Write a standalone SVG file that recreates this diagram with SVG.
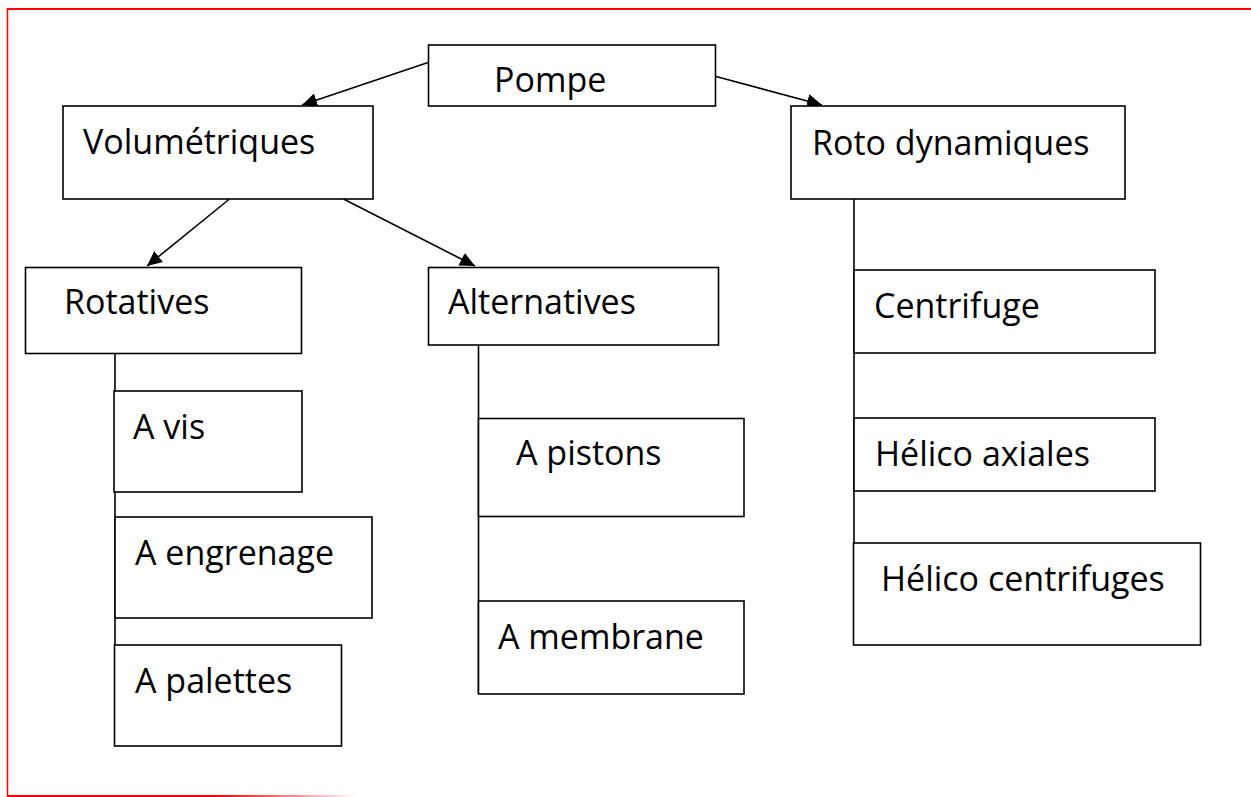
<svg xmlns="http://www.w3.org/2000/svg" width="1251" height="797" viewBox="0 0 1251 797">
<style>
.box{fill:#fff;stroke:#000;stroke-width:1.6}
.lbl{font-family:"Open Sans","Noto Sans","Liberation Sans",sans-serif;font-size:34px;fill:#000}
.con{fill:none;stroke:#000;stroke-width:1.6}
</style>
<defs>
<marker id="ah" markerUnits="userSpaceOnUse" markerWidth="18" markerHeight="16" refX="15" refY="7" orient="auto">
<path d="M0,0 L15,7 L0,14 z" fill="#000"/>
</marker>
<linearGradient id="fade" x1="0" y1="0" x2="1" y2="0">
<stop offset="0.6" stop-color="#ff0000"/>
<stop offset="1" stop-color="#ff0000" stop-opacity="0"/>
</linearGradient>
</defs>
<rect width="1251" height="797" fill="#fff"/>
<g id="frame">
<line x1="7.5" y1="9" x2="1251" y2="9" stroke="#ff0000" stroke-width="2"/>
<line x1="7.5" y1="8" x2="7.5" y2="796" stroke="#ff0000" stroke-width="1.5"/>
<rect x="7" y="795" width="350" height="2" fill="url(#fade)"/>
</g>
<g id="connectors">
<line class="con" x1="428" y1="62.5" x2="302" y2="105" marker-end="url(#ah)"/>
<line class="con" x1="716" y1="76.5" x2="822" y2="105" marker-end="url(#ah)"/>
<line class="con" x1="229.5" y1="199" x2="147" y2="266" marker-end="url(#ah)"/>
<line class="con" x1="343.5" y1="199" x2="475" y2="266" marker-end="url(#ah)"/>
<line class="con" x1="115" y1="354" x2="115" y2="694"/>
<line class="con" x1="478.5" y1="345" x2="478.5" y2="694"/>
<line class="con" x1="854" y1="199" x2="854" y2="578"/>
</g>
<g id="pompe"><rect class="box" x="428.5" y="45" width="287" height="61"/><text class="lbl" x="494" y="92">Pompe</text></g>
<g id="volumetriques"><rect class="box" x="63" y="106" width="310" height="93"/><text class="lbl" x="83" y="154">Volumétriques</text></g>
<g id="roto"><rect class="box" x="791" y="106" width="334" height="93"/><text class="lbl" x="812" y="155">Roto dynamiques</text></g>
<g id="rotatives"><rect class="box" x="25.5" y="267.5" width="276" height="86"/><text class="lbl" x="64" y="314">Rotatives</text></g>
<g id="alternatives"><rect class="box" x="428.5" y="267.5" width="290" height="77.5"/><text class="lbl" x="448" y="314">Alternatives</text></g>
<g id="avis"><rect class="box" x="114" y="391" width="188" height="101"/><text class="lbl" x="133" y="439">A vis</text></g>
<g id="aengrenage"><rect class="box" x="115" y="517" width="257" height="101"/><text class="lbl" x="135" y="565">A engrenage</text></g>
<g id="apalettes"><rect class="box" x="114.5" y="645" width="227" height="101"/><text class="lbl" x="135" y="693">A palettes</text></g>
<g id="apistons"><rect class="box" x="478.5" y="418.5" width="265.5" height="98"/><text class="lbl" x="516" y="465">A pistons</text></g>
<g id="amembrane"><rect class="box" x="478.5" y="601" width="265.5" height="93"/><text class="lbl" x="498" y="649">A membrane</text></g>
<g id="centrifuge"><rect class="box" x="854" y="270" width="301" height="83"/><text class="lbl" x="874" y="318">Centrifuge</text></g>
<g id="helicoaxiales"><rect class="box" x="854" y="418" width="301" height="73"/><text class="lbl" x="875" y="466">Hélico axiales</text></g>
<g id="helicocentrifuges"><rect class="box" x="853.5" y="543" width="347" height="102"/><text class="lbl" x="881" y="591">Hélico centrifuges</text></g>
</svg>
